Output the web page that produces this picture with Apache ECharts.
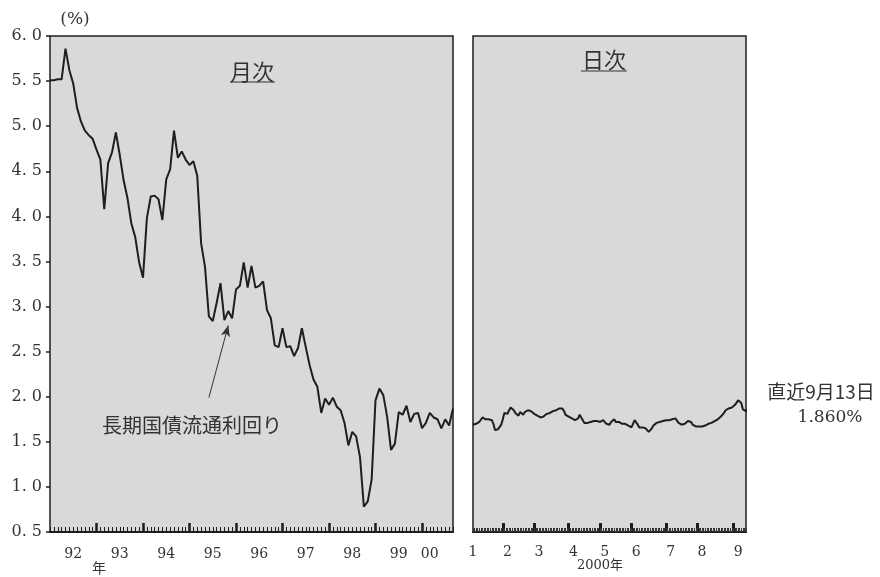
<!DOCTYPE html>
<html><head><meta charset="utf-8">
<script src="https://cdn.jsdelivr.net/npm/echarts@6/dist/echarts.min.js"></script>
<style>html,body{margin:0;padding:0;background:#fff}#c{width:880px;height:577px}</style>
</head><body><div id="c"></div>
<script>
// ---- data ----
const monthlyStartYear = 1992;
const monthlyYield = [
  5.51,5.51,5.52,5.52,5.86,5.62,5.47,5.20,5.05,4.95,4.90,4.86,
  4.74,4.63,4.08,4.59,4.71,4.93,4.68,4.40,4.20,3.92,3.77,3.49,
  3.32,3.98,4.22,4.23,4.19,3.96,4.41,4.52,4.95,4.65,4.72,4.63,
  4.57,4.61,4.45,3.70,3.44,2.89,2.84,3.04,3.26,2.85,2.95,2.87,
  3.19,3.23,3.49,3.21,3.45,3.21,3.23,3.28,2.96,2.87,2.57,2.55,
  2.76,2.55,2.56,2.45,2.54,2.76,2.55,2.35,2.19,2.11,1.82,1.98,
  1.91,1.99,1.89,1.85,1.71,1.46,1.61,1.56,1.33,0.78,0.84,1.08,
  1.96,2.09,2.02,1.78,1.41,1.48,1.83,1.80,1.90,1.72,1.81,1.82,
  1.65,1.71,1.82,1.77,1.75,1.65,1.75,1.68,1.87
];
const yearTickLabels = ['92','93','94','95','96','97','98','99','00'];
const yearLabelMonth = [6,6,6,6,6,6,6,6,2];

const dailyMonthLabels = ['1','2','3','4','5','6','7','8','9'];
const tradingDaysPerMonth = [19,20,22,20,20,22,20,23,9];
const dailyYield = [
  1.69,1.69,1.70,1.71,1.72,1.74,1.77,1.76,1.75,1.75,1.75,1.76,1.74,1.70,1.63,1.63,1.64,1.66,1.69,
  1.75,1.82,1.82,1.81,1.85,1.88,1.86,1.85,1.82,1.81,1.79,1.83,1.82,1.80,1.83,1.83,1.85,1.87,1.84,1.82,
  1.81,1.79,1.79,1.78,1.77,1.75,1.78,1.80,1.81,1.81,1.82,1.83,1.84,1.83,1.85,1.85,1.87,1.89,1.87,1.84,1.80,1.79,
  1.78,1.77,1.76,1.74,1.74,1.72,1.76,1.80,1.77,1.74,1.71,1.70,1.71,1.71,1.72,1.72,1.73,1.74,1.73,1.72,
  1.72,1.73,1.74,1.72,1.70,1.68,1.69,1.72,1.74,1.75,1.72,1.71,1.72,1.72,1.70,1.70,1.70,1.70,1.68,1.67,
  1.66,1.70,1.74,1.72,1.69,1.66,1.66,1.66,1.66,1.65,1.64,1.61,1.63,1.65,1.68,1.70,1.71,1.70,1.72,1.73,1.73,
  1.74,1.74,1.74,1.74,1.74,1.75,1.75,1.76,1.74,1.71,1.70,1.69,1.69,1.70,1.71,1.73,1.74,1.72,1.69,1.67,
  1.67,1.67,1.67,1.67,1.67,1.67,1.68,1.69,1.70,1.70,1.71,1.72,1.73,1.74,1.75,1.76,1.78,1.79,1.82,1.85,1.86,1.87,1.87,
  1.88,1.90,1.91,1.93,1.96,1.98,1.93,1.86,1.84,1.84,1.86
];
const yMin = 0.5, yMax = 6.0, yInterval = 0.5;

// ---- derived categories ----
const monthCats = monthlyYield.map((_, i) => {
  const y = monthlyStartYear + Math.floor(i / 12);
  const m = (i % 12) + 1;
  return y + '-' + (m < 10 ? '0' + m : m);
});
const monthLabelAt = {};
yearTickLabels.forEach((lab, k) => { monthLabelAt[k * 12 + yearLabelMonth[k]] = lab; });

const dayCats = [];
const monthStartIdx = [];
tradingDaysPerMonth.forEach((n, mi) => {
  monthStartIdx.push(dayCats.length);
  for (let d = 1; d <= n; d++) dayCats.push('2000-' + dailyMonthLabels[mi] + '-' + d);
});
const dayLabelAt = {};
monthStartIdx.forEach((s, mi) => { dayLabelAt[mi === 0 ? s : s + 3] = dailyMonthLabels[mi]; });
const monthStartSet = new Set(monthStartIdx.slice(1));

const ink = '#1e1e1e';
const txt = '#333';
const serif = '"DejaVu Serif", "Noto Sans CJK JP", serif';
const cjk = '"Noto Sans CJK JP", sans-serif';

const chart = echarts.init(document.getElementById('c'), null, {renderer: 'canvas'});
chart.setOption({
  backgroundColor: '#fff',
  animation: false,
  grid: [
    {left: 50, top: 36, width: 403, height: 496, show: true, backgroundColor: '#d9d9d9', borderColor: ink, borderWidth: 1.5},
    {left: 473, top: 36, width: 273, height: 496, show: true, backgroundColor: '#d9d9d9', borderColor: ink, borderWidth: 1.5}
  ],
  xAxis: [
    {type: 'category', gridIndex: 0, data: monthCats, boundaryGap: false, position: 'bottom',
     axisLine: {lineStyle: {color: ink, width: 2}},
     axisTick: {inside: true, length: 9, lineStyle: {color: ink, width: 2.5},
                interval: (i) => i > 0 && i % 12 === 0},
     axisLabel: {interval: (i) => monthLabelAt[i] !== undefined, formatter: (v, i) => monthLabelAt[i] || '',
                 margin: 15, color: txt, fontFamily: serif, fontSize: 14},
     splitLine: {show: false}},
    {type: 'category', gridIndex: 0, data: monthCats, boundaryGap: false, position: 'bottom',
     axisLine: {show: false},
     axisTick: {inside: true, length: 5, interval: 0, lineStyle: {color: ink, width: 1}},
     axisLabel: {show: false}, splitLine: {show: false}},
    {type: 'category', gridIndex: 1, data: dayCats, boundaryGap: false, position: 'bottom',
     axisLine: {lineStyle: {color: ink, width: 2}},
     axisTick: {inside: true, length: 9, lineStyle: {color: ink, width: 3},
                interval: (i) => monthStartSet.has(i)},
     axisLabel: {interval: (i) => dayLabelAt[i] !== undefined, formatter: (v, i) => dayLabelAt[i] || '',
                 margin: 13, color: txt, fontFamily: serif, fontSize: 14},
     splitLine: {show: false}},
    {type: 'category', gridIndex: 1, data: dayCats, boundaryGap: false, position: 'bottom',
     axisLine: {show: false},
     axisTick: {inside: true, length: 4, interval: 0, lineStyle: {color: '#333', width: 1}},
     axisLabel: {show: false}, splitLine: {show: false}}
  ],
  yAxis: [
    {type: 'value', gridIndex: 0, min: yMin, max: yMax, interval: yInterval,
     axisLine: {show: false},
     axisTick: {show: true, length: 4, lineStyle: {color: ink, width: 1.5}},
     axisLabel: {margin: 8, color: txt, fontFamily: serif, fontSize: 16,
                 formatter: (v) => v.toFixed(1).replace('.', '. ')},
     splitLine: {show: false}},
    {type: 'value', gridIndex: 1, min: yMin, max: yMax, interval: yInterval, show: false,
     splitLine: {show: false}}
  ],
  series: [
    {type: 'line', xAxisIndex: 0, yAxisIndex: 0, data: monthlyYield, symbol: 'none',
     lineStyle: {color: ink, width: 2}, z: 5,
     markLine: {silent: true, symbol: ['none', 'arrow'], symbolSize: [7, 11],
                lineStyle: {color: '#333', width: 1, type: 'solid'}, label: {show: false},
                data: [[{coord: [monthCats[41], 1.99]}, {coord: [monthCats[46], 2.79]}]]}},
    {type: 'line', xAxisIndex: 2, yAxisIndex: 1, data: dailyYield, symbol: 'none',
     lineStyle: {color: ink, width: 2}, z: 5}
  ],
  graphic: [
    {type: 'text', x: 75, y: 20, style: {text: '(%)', font: '17px ' + serif, fill: txt, align: 'center', verticalAlign: 'middle'}},
    {type: 'text', x: 252, y: 72, style: {text: '月次', font: '22px ' + cjk, fill: txt, align: 'center', verticalAlign: 'middle'}},
    {type: 'line', shape: {x1: 230, y1: 82, x2: 275, y2: 82}, style: {stroke: txt, lineWidth: 1}},
    {type: 'text', x: 604, y: 60, style: {text: '日次', font: '22px ' + cjk, fill: txt, align: 'center', verticalAlign: 'middle'}},
    {type: 'line', shape: {x1: 581, y1: 71, x2: 627, y2: 71}, style: {stroke: txt, lineWidth: 1}},
    {type: 'text', x: 192, y: 425, style: {text: '長期国債流通利回り', font: '20px ' + cjk, fill: txt, align: 'center', verticalAlign: 'middle'}},
    {type: 'text', x: 99, y: 568, style: {text: '年', font: '14px ' + cjk, fill: txt, align: 'center', verticalAlign: 'middle'}},
    {type: 'text', x: 600, y: 566, style: {text: '2000年', font: '13px ' + serif, fill: txt, align: 'center', verticalAlign: 'middle'}},
    {type: 'text', x: 821, y: 392, style: {text: '直近9月13日', font: '19px ' + cjk, fill: txt, align: 'center', verticalAlign: 'middle'}},
    {type: 'text', x: 830, y: 418, style: {text: '1.860%', font: '17px ' + serif, fill: txt, align: 'center', verticalAlign: 'middle'}}
  ]
});
</script></body></html>
